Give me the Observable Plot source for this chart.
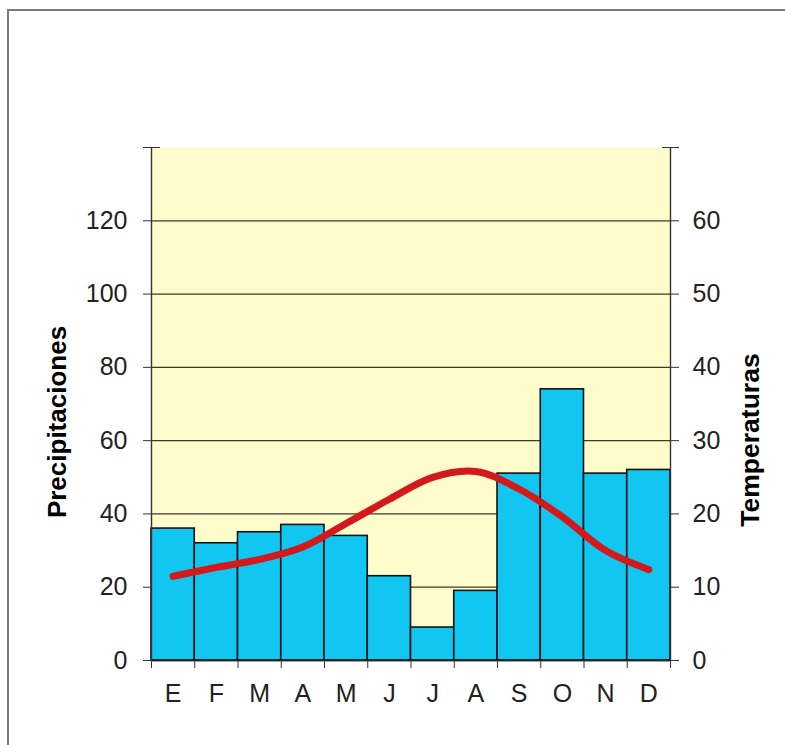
<!DOCTYPE html>
<html><head><meta charset="utf-8">
<script src="https://cdn.jsdelivr.net/npm/d3@7"></script>
<script src="https://cdn.jsdelivr.net/npm/@observablehq/plot@0.6"></script>
<style>
body{margin:0;background:#fff;}
#wrap{position:relative;width:785px;height:745px;overflow:hidden;background:#fff;}
#border{position:absolute;left:7px;top:9px;width:800px;height:800px;border:2px solid #7a7a7a;box-sizing:border-box;}
#chart{position:absolute;left:0;top:0;}
</style></head>
<body>
<div id="wrap"><div id="border"></div><div id="chart"></div></div>
<script>
const months = ["E","F","M","A","M","J","J","A","S","O","N","D"];
const precip = [36, 32, 35, 37, 34, 23, 9, 19, 51, 74, 51, 52];
const temp = [11.5, 12.7, 13.8, 15.5, 18.7, 22, 25, 25.8, 23.4, 19.6, 15, 12.4];
const precipTicks = [0, 20, 40, 60, 80, 100, 120];
const precipMax = 140;
const tempPerPrecip = 0.5;

const data = months.map((m, i) => ({i, m, p: precip[i], t: temp[i]}));
const font = "'Liberation Sans', Arial, sans-serif";
const fs = 25;

const chart = Plot.plot({
  width: 785,
  height: 745,
  marginLeft: 151,
  marginRight: 115,
  marginTop: 147,
  marginBottom: 85,
  style: {fontFamily: font, background: "transparent", color: "#222"},
  x: {type: "linear", domain: [0, months.length], axis: null},
  y: {domain: [0, precipMax], axis: null},
  marks: [
    Plot.frame({fill: "#FFFCCB", stroke: null}),
    Plot.ruleY(precipTicks, {stroke: "#3a3a30", strokeWidth: 1.3}),
    Plot.rectY(data, {x1: "i", x2: d => d.i + 1, y: "p", fill: "#12C6F2", stroke: "#111", strokeWidth: 1.6}),
    Plot.line(data, {x: d => d.i + 0.5, y: d => d.t / tempPerPrecip, curve: "catmull-rom", stroke: "#D3191B", strokeWidth: 7, strokeLinecap: "round", strokeLinejoin: "round"}),
    Plot.ruleY([0], {stroke: "#222", strokeWidth: 1.6}),
    Plot.ruleX([0, months.length], {y1: 0, y2: precipMax, stroke: "#333", strokeWidth: 1.4}),
    // left axis
    Plot.axisY({anchor: "left", ticks: precipTicks, tickSize: 8, tickPadding: 16, fontSize: fs, label: null, stroke: "#333"}),
    Plot.axisY({anchor: "left", ticks: [precipMax], tickSize: 17, dx: 9, tickFormat: () => "", label: null, stroke: "#333"}),
    // right axis
    Plot.axisY({anchor: "right", ticks: precipTicks, tickSize: 8, tickPadding: 14, fontSize: fs, tickFormat: d => d * tempPerPrecip, label: null, stroke: "#333"}),
    Plot.axisY({anchor: "right", ticks: [precipMax], tickSize: 17, dx: -9, tickFormat: () => "", label: null, stroke: "#333"}),
    // x axis
    Plot.axisX({ticks: d3.range(0, months.length + 1), tickSize: 8, tickFormat: () => "", label: null, stroke: "#333"}),
    Plot.axisX({ticks: months.map((m, i) => i + 0.5), tickSize: 0, tickPadding: 24, fontSize: fs, tickFormat: d => months[Math.floor(d)], label: null}),
    // titles
    Plot.text(["Precipitaciones"], {frameAnchor: "left", textAnchor: "middle", dx: -94, dy: 18, rotate: -90, fontSize: 26, fontWeight: "bold", fill: "#000"}),
    Plot.text(["Temperaturas"], {frameAnchor: "right", textAnchor: "middle", dx: 80, dy: 36, rotate: -90, fontSize: 26.5, fontWeight: "bold", fill: "#000"})
  ]
});
document.getElementById("chart").append(chart);
</script>
</body></html>
